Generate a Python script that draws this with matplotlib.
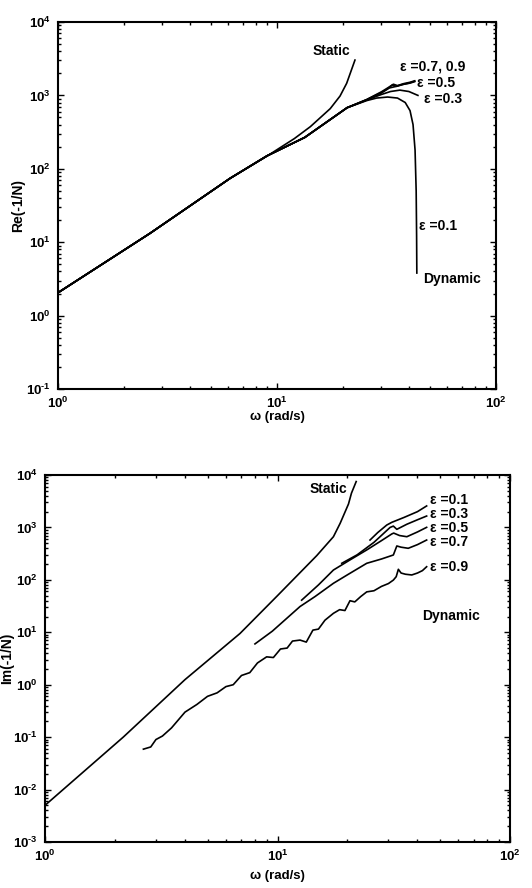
import math
import matplotlib
matplotlib.use("Agg")
import matplotlib.pyplot as plt
from matplotlib.ticker import LogLocator, FuncFormatter, NullFormatter

plt.rcParams['font.family'] = ['Liberation Sans', 'DejaVu Sans']
plt.rcParams['font.weight'] = 'bold'
plt.rcParams['mathtext.fontset'] = 'custom'
plt.rcParams['mathtext.rm'] = 'Liberation Sans:bold'
plt.rcParams['mathtext.bf'] = 'Liberation Sans:bold'

# ---------------- Re(-1/N) ----------------
# low-frequency branch shared by all dynamic curves
re_w_common = [1.0, 2.63, 6.1, 9.0, 13.4, 20.9]
re_common = [2.05, 13.2, 74, 150, 268, 680]

# static describing function
re_w_static = [1.0, 2.63, 6.1, 8.97, 12.0, 14.2, 17.5, 19.4, 20.8, 22.7]
re_static = [2.05, 13.2, 74, 148, 258, 375, 660, 980, 1460, 3030]

# dynamic curves beyond the shared branch
re_w_e01 = [25.7, 28.5, 32.0, 35.5, 38.5, 40.5, 41.8, 42.7, 43.2, 43.4, 43.5]
re_e01 = [850, 920, 950, 920, 800, 620, 400, 180, 50, 12, 3.8]

re_w_e03 = [25.7, 30.0, 33.0, 36.4, 40.0, 44.0]
re_e03 = [865, 1030, 1130, 1180, 1130, 1000]

re_w_e05 = [25.7, 30.0, 32.5, 34.0, 35.5, 38.0, 40.5, 42.5]
re_e05 = [870, 1080, 1260, 1300, 1340, 1420, 1470, 1540]

re_w_e07 = [25.7, 30.0, 32.0, 33.5, 35.0, 37.0, 40.0, 42.5]
re_e07 = [875, 1100, 1230, 1380, 1330, 1400, 1470, 1560]

re_w_e09 = [25.7, 30.0, 32.5, 34.0, 35.5, 38.0, 40.5, 42.5]
re_e09 = [880, 1120, 1300, 1420, 1360, 1450, 1510, 1580]

# ---------------- Im(-1/N) ----------------
im_w_static = [1.0, 2.17, 4.0, 6.9, 10.0, 14.75, 17.4, 18.6, 20.2, 20.8, 21.8]
im_static = [0.005, 0.10, 1.25, 9.5, 50, 290, 665, 1200, 2800, 4500, 7500]

im_w_e01 = [25.0, 27.0, 29.5, 31.0, 35.0, 40.0, 43.8]
im_e01 = [575, 800, 1110, 1250, 1550, 2000, 2570]

im_w_e03 = [18.9, 22.0, 26.0, 30.5, 31.5, 32.6, 36.0, 40.0, 43.8]
im_e03 = [207, 300, 520, 1000, 1060, 920, 1150, 1400, 1650]

im_w_e05 = [12.7, 15.0, 17.4, 20.5, 24.2, 28.0, 31.0, 31.6, 33.5, 36.0, 40.0, 43.8]
im_e05 = [41, 80, 154, 240, 372, 560, 750, 780, 700, 665, 820, 1004]

im_w_e07 = [8.0, 9.5, 12.5, 14.5, 17.4, 20.0, 24.2, 28.0, 31.5, 32.6, 34.0, 36.5, 40.0, 43.8]
im_e07 = [6.0, 10.5, 31, 48, 86, 125, 207, 250, 298, 443, 420, 400, 470, 575]

im_w_e09 = [2.65, 2.85, 3.0, 3.2, 3.5, 4.0, 4.5, 5.0, 5.5, 6.0, 6.45, 7.0, 7.6, 8.2,
            8.98, 9.6, 10.3, 11.0, 11.6, 12.5, 13.3, 14.2, 15.0, 16.0, 17.4, 18.5,
            19.5, 20.5, 21.5, 22.8, 24.2, 26.0, 28.0, 30.0, 31.5, 32.4, 33.1, 34.0,
            35.5, 37.8, 40.0, 42.0, 43.8]
im_e09 = [0.059, 0.065, 0.09, 0.105, 0.15, 0.30, 0.42, 0.60, 0.70, 0.92, 1.0, 1.5, 1.7, 2.6,
          3.4, 3.3, 4.8, 5.0, 6.8, 7.1, 6.5, 11.0, 11.5, 17.0, 23, 27,
          26, 40, 38, 48, 59, 62, 75, 85, 99, 115, 159, 135,
          128, 124, 135, 150, 178]

fig = plt.figure(figsize=(5.32, 8.88), dpi=100)
ax1 = fig.add_axes([58/532, 1-389/888, 438/532, 367/888])
ax2 = fig.add_axes([45/532, 1-842/888, 465/532, 367/888])

lc = 'black'
lw = 1.2
fs = 10


def sci(v, pos):
    e = int(round(math.log10(v)))
    if e < 0:
        return r'$\mathbf{10^{\text{-}%d}}$' % (-e)
    return r'$\mathbf{10^{%d}}$' % e


def style(ax, ymin, ymax, xpad):
    ax.set_xscale('log')
    ax.set_yscale('log')
    ax.set_xlim(1, 100)
    ax.set_ylim(ymin, ymax)
    ax.xaxis.set_major_locator(LogLocator(base=10, numticks=10))
    ax.yaxis.set_major_locator(LogLocator(base=10, numticks=20))
    ax.xaxis.set_minor_locator(LogLocator(base=10, subs=range(2, 10), numticks=10))
    ax.yaxis.set_minor_locator(LogLocator(base=10, subs=range(2, 10), numticks=20))
    ax.xaxis.set_major_formatter(FuncFormatter(sci))
    ax.yaxis.set_major_formatter(FuncFormatter(sci))
    ax.xaxis.set_minor_formatter(NullFormatter())
    ax.yaxis.set_minor_formatter(NullFormatter())
    ax.tick_params(which='both', direction='in', top=True, right=True,
                   labelsize=9.5, width=1.0)
    ax.tick_params(which='major', length=4, pad=5)
    ax.tick_params(which='minor', length=2)
    for s in ax.spines.values():
        s.set_linewidth(1.5)
    ax.set_xlabel('ω (rad/s)', fontsize=9.5, fontweight='bold', labelpad=xpad)


# top panel
style(ax1, 0.1, 1e4, 0)
ax1.plot(re_w_static, re_static, color=lc, lw=lw)
for w_tail, v_tail in [(re_w_e01, re_e01), (re_w_e03, re_e03), (re_w_e05, re_e05),
                       (re_w_e07, re_e07), (re_w_e09, re_e09)]:
    ax1.plot(re_w_common + w_tail, re_common + v_tail, color=lc, lw=lw)
ax1.set_ylabel('Re(-1/N)', fontsize=10, fontweight='bold')
ax1.yaxis.set_label_coords(-0.075, 0.5)

tk = dict(fontsize=fs, fontweight='bold', va='center', ha='left')
ax1.text(14.6, 4070, 'Static', **tk)
ax1.text(36.5, 2460, 'ε =0.7, 0.9', **tk)
ax1.text(43.6, 1475, 'ε =0.5', **tk)
ax1.text(47.0, 893, 'ε =0.3', **tk)
ax1.text(44.6, 16.8, 'ε =0.1', **tk)
ax1.text(46.4, 3.16, 'Dynamic', **tk)

# bottom panel
style(ax2, 1e-3, 1e4, 4)
ax2.plot(im_w_static, im_static, color=lc, lw=lw)
for w, v in [(im_w_e01, im_e01), (im_w_e03, im_e03), (im_w_e05, im_e05),
             (im_w_e07, im_e07), (im_w_e09, im_e09)]:
    ax2.plot(w, v, color=lc, lw=lw)
ax2.set_ylabel('Im(-1/N)', fontsize=10, fontweight='bold')
ax2.yaxis.set_label_coords(-0.066, 0.5)

ax2.text(13.8, 5410, 'Static', **tk)
ax2.text(45.3, 3340, 'ε =0.1', **tk)
ax2.text(45.3, 1800, 'ε =0.3', **tk)
ax2.text(45.3, 975, 'ε =0.5', **tk)
ax2.text(45.3, 527, 'ε =0.7', **tk)
ax2.text(45.3, 176, 'ε =0.9', **tk)
ax2.text(41.8, 20.8, 'Dynamic', **tk)

fig.savefig('out.png', dpi=100)
